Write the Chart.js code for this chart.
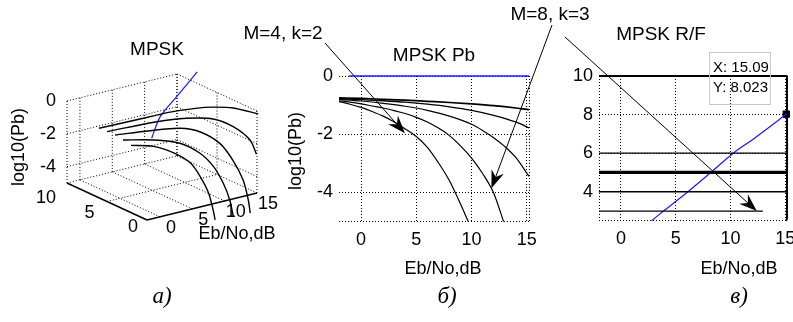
<!DOCTYPE html>
<html lang="ru"><head><meta charset="utf-8"><title>MPSK</title>
<script src="https://cdn.jsdelivr.net/npm/chart.js@4.4.1/dist/chart.umd.min.js"></script>
<style>
html,body{margin:0;padding:0;background:#fff;overflow:hidden}
#wrap{position:relative;width:793px;height:322px;background:#fff}
#wrap canvas{position:absolute;left:0;top:0}
</style></head><body><div id="wrap">
<canvas id="cA" width="793" height="322"></canvas>
<canvas id="cB" width="793" height="322"></canvas>
<canvas id="cC" width="793" height="322"></canvas>
</div>
<script>
// ================= DATA =================
// Panel б : MPSK Pb, log10(Pb) vs Eb/No (dB)
const pbXTicks = [0, 5, 10, 15, 15.2];
const pbYTicks = [-5, -4, -2, 0];
const ebBlue = [-1.1, 15.2];
const pbBlue = [0, 0];
const ebM4  = [-2, -1, 0, 1, 2, 3, 4, 5, 6, 7, 8, 9, 9.7];
const pbM4  = [-0.88, -0.97, -1.08, -1.22, -1.38, -1.58, -1.82, -2.08, -2.45, -2.98, -3.6, -4.4, -5.0];
const ebM8  = [-2, -1, 0, 1, 2, 3, 4, 5, 6, 7, 8, 9, 10, 11, 12, 12.9];
const pbM8  = [-0.85, -0.9, -0.96, -1.03, -1.1, -1.19, -1.29, -1.42, -1.58, -1.79, -2.05, -2.4, -2.82, -3.35, -4.02, -5.0];
const ebM16 = [-2, 0, 2, 4, 6, 8, 10, 11, 12, 13, 14, 15.2];
const pbM16 = [-0.8, -0.86, -0.94, -1.04, -1.18, -1.38, -1.66, -1.87, -2.12, -2.42, -2.8, -3.45];
const ebM32 = [-2, 0, 2, 4, 6, 8, 10, 12, 14, 15.2];
const pbM32 = [-0.78, -0.81, -0.85, -0.9, -0.97, -1.06, -1.18, -1.35, -1.58, -1.78];
const ebM64 = [-2, 0, 2, 4, 6, 8, 10, 12, 14, 15.2];
const pbM64 = [-0.75, -0.77, -0.8, -0.83, -0.87, -0.91, -0.96, -1.02, -1.1, -1.16];

// Panel в : MPSK R/F
const rfXTicks = [-2, 0, 5, 10, 15];
const rfYTicks = [2.5, 4, 6, 8, 10];
const rfLevels   = [10, 6, 5, 4, 3];
const rfLevelEnd = [15.2, 15.2, 15.2, 15.2, 12.95];
const rfBlueX = [2.8, 4, 6, 8.2, 10.25, 12, 14.4, 15.09];
const rfBlueY = [2.5, 3.05, 3.95, 5.0, 6.0, 6.7, 7.72, 8.023];
const rfEdgeX = [15.15, 15.15, 15.05];
const rfEdgeY = [10, 2.6, 2.5];
const tipX = 15.09, tipY = 8.023;

// Panel а : 3-D view, (Eb/No, k, log10(Pb))
const x3Ticks = [0, 5, 10, 15];
const k3Ticks = [0, 5, 10];
const z3Ticks = [-4, -2, 0];
const k3Curves = [2, 3, 4, 5, 6];
const eb3 = [
  [-2, 1.5, 4.6, 7.2, 8.7, 10.0, 10.8, 11.0],
  [-2, 2.7, 6.8, 9.9, 12.0, 13.5, 14.5, 15.05],
  [-2, 3.4, 8.0, 11.1, 14.2, 16.2, 17.8, 18.6, 18.9],
  [-2, 5.7, 10.3, 14.4, 17.5, 20.1, 21.1],
  [-2, 2.8, 6.9, 9.0, 12.9, 15.7, 18.7, 22.6]
];
const pb3 = [
  [-0.9, -1.3, -2.0, -2.87, -3.84, -4.98, -6.27, -6.71],
  [-0.8, -1.25, -1.85, -2.76, -3.78, -4.94, -6.06, -7.13],
  [-0.72, -0.98, -1.28, -1.79, -2.8, -4.01, -5.38, -6.68, -7.51],
  [-0.74, -0.88, -1.12, -1.56, -2.33, -3.39, -4.35],
  [-0.76, -0.80, -0.82, -0.84, -0.99, -1.19, -1.53, -2.27]
];
const eb3Blue = [-1.6, 4.0, 10.0, 17.5];
const k3Blue  = [-0.26, 3.2, 6.0, 9.5];
const pb3Blue = [0, 0, 0, 0];

// annotation targets (data coords)
const arrowM4Tip  = [3.97, -1.97];   // panel б
const arrowM8Tip  = [11.8, -3.86];   // panel б
const arrowM8Tip2 = [12.4, 3.0];     // panel в

// ================= HELPERS =================
const FONT = '"Liberation Sans", Arial, Helvetica, sans-serif';
const BLUE = '#1a1aff';
const pts = (xs, ys) => xs.map((x, i) => ({x, y: ys[i]}));
const line = (data, color, width, extra) => Object.assign({
  data, showLine: true, borderColor: color, backgroundColor: color, borderWidth: width,
  pointRadius: 0, clip: false, cubicInterpolationMode: 'monotone'
}, extra || {});
function txt(ctx, s, x, y, size, align, rot, font) {
  ctx.save();
  ctx.font = font || (size + 'px ' + FONT);
  ctx.fillStyle = '#000';
  ctx.textAlign = align || 'center';
  ctx.textBaseline = 'middle';
  ctx.translate(x, y);
  if (rot) ctx.rotate(rot);
  ctx.fillText(s, 0, 0);
  ctx.restore();
}
function arrow(ctx, x1, y1, x2, y2) {
  const a = Math.atan2(y2 - y1, x2 - x1), c = Math.cos(a), s = Math.sin(a);
  const L = 18, W = 6.5, N = 12;
  ctx.save();
  ctx.strokeStyle = '#000'; ctx.fillStyle = '#000'; ctx.lineWidth = 1;
  ctx.beginPath(); ctx.moveTo(x1, y1); ctx.lineTo(x2 - c * N, y2 - s * N); ctx.stroke();
  const bx = x2 - c * L, by = y2 - s * L;
  ctx.beginPath();
  ctx.moveTo(x2, y2);
  ctx.lineTo(bx - s * W, by + c * W);
  ctx.lineTo(x2 - c * N, y2 - s * N);
  ctx.lineTo(bx + s * W, by - c * W);
  ctx.closePath(); ctx.fill();
  ctx.restore();
}
const fixW = w => s => { s.width = w; s.paddingTop = 0; s.paddingBottom = 0; };
const fixH = h => s => { s.height = h; s.paddingLeft = 0; s.paddingRight = 0; };
const setTicks = arr => s => { s.ticks = arr.map(v => ({value: v})); };
const gridOpts = {color: '#000', lineWidth: 1, drawTicks: false};
const borderOpts = {display: false, dash: [1, 2]};
const baseOpts = {
  responsive: false, animation: false, events: [],
  plugins: {legend: {display: false}, tooltip: {enabled: false}, title: {display: false}}
};

// ================= PANEL а (3-D) =================
const X3MIN = -2, X3MAX = 15, K3MIN = 0, K3MAX = 10, Z3MIN = -5, Z3MAX = 0;
function P3(x, k, z) {
  return {
    x: 147 + 6.47 * (x - X3MIN) - 8 * (k - K3MIN),
    y: 220 - 1.59 * (x - X3MIN) - 3.7 * (k - K3MIN) - 16.4 * (z - Z3MIN)
  };
}
const box3d = {
  id: 'box3d',
  beforeDatasetsDraw(chart) {
    const ctx = chart.ctx, sx = chart.scales.x, sy = chart.scales.y;
    const pix = p => [sx.getPixelForValue(p.x), sy.getPixelForValue(p.y)];
    function seg(a, b, dotted, w) {
      const A = pix(a), B = pix(b);
      ctx.save();
      ctx.strokeStyle = '#000';
      ctx.lineWidth = w || 1;
      ctx.setLineDash(dotted ? [1, 2] : []);
      ctx.beginPath(); ctx.moveTo(A[0], A[1]); ctx.lineTo(B[0], B[1]); ctx.stroke();
      ctx.restore();
    }
    // back wall (k = max)
    for (const z of z3Ticks) seg(P3(X3MIN, K3MAX, z), P3(X3MAX, K3MAX, z), true);
    for (const x of [X3MIN].concat(x3Ticks)) seg(P3(x, K3MAX, Z3MIN), P3(x, K3MAX, Z3MAX), true);
    // side wall (x = max)
    for (const z of z3Ticks) seg(P3(X3MAX, K3MIN, z), P3(X3MAX, K3MAX, z), true);
    for (const k of k3Ticks) seg(P3(X3MAX, k, Z3MIN), P3(X3MAX, k, Z3MAX), true);
    // floor
    for (const x of x3Ticks) seg(P3(x, K3MIN, Z3MIN), P3(x, K3MAX, Z3MIN), true);
    for (const k of k3Ticks.filter(k => k > K3MIN)) seg(P3(X3MIN, k, Z3MIN), P3(X3MAX, k, Z3MIN), true);
    // solid axes
    seg(P3(X3MIN, K3MIN, Z3MIN), P3(X3MAX, K3MIN, Z3MIN), false, 1.4);
    seg(P3(X3MIN, K3MIN, Z3MIN), P3(X3MIN, K3MAX, Z3MIN), false, 1.4);
    // tick labels
    for (const z of z3Ticks) { const p = pix(P3(X3MIN, K3MAX, z)); txt(ctx, String(z), p[0] - 11, p[1], 18, 'right'); }
    for (const k of k3Ticks) {
      const p = pix(P3(X3MIN, k, Z3MIN));
      txt(ctx, String(k), p[0] - 14 - 0.7 * k, p[1] + 7.5 + 0.75 * k, 18);
    }
    for (const x of x3Ticks) { const p = pix(P3(x, K3MIN, Z3MIN)); txt(ctx, String(x), p[0] + 11, p[1] + 11, 18); }
    txt(ctx, 'MPSK', 157, 50, 19);
    txt(ctx, 'log10(Pb)', 19, 147, 18, 'center', -Math.PI / 2);
    txt(ctx, 'Eb/No,dB', 237, 234, 18);
  }
};
const ds3 = k3Curves.map((k, i) => line(eb3[i].map((x, j) => P3(x, k, pb3[i][j])), '#000', 1.4,
  {cubicInterpolationMode: 'default', tension: 0.3}));
ds3.push(line(eb3Blue.map((x, j) => P3(x, k3Blue[j], pb3Blue[j])), BLUE, 1.2,
  {cubicInterpolationMode: 'default', tension: 0.3}));
const chartA = new Chart(document.getElementById('cA'), {
  type: 'scatter',
  data: {datasets: ds3},
  options: Object.assign({}, baseOpts, {
    layout: {padding: 0},
    scales: {
      x: {type: 'linear', min: 0, max: 793, display: false},
      y: {type: 'linear', min: 0, max: 322, reverse: true, display: false}
    }
  }),
  plugins: [box3d]
});

// ================= PANEL б =================
const decoB = {
  id: 'decoB',
  afterDraw(chart) {
    const ctx = chart.ctx;
    txt(ctx, 'MPSK Pb', 434, 56, 19);
    txt(ctx, 'log10(Pb)', 296, 151, 18, 'center', -Math.PI / 2);
    txt(ctx, 'Eb/No,dB', 443, 269, 18);
  }
};
const chartB = new Chart(document.getElementById('cB'), {
  type: 'scatter',
  data: {datasets: [
    line(pts(ebBlue, pbBlue), BLUE, 1.5),
    line(pts(ebM64, pbM64), '#000', 1.7),
    line(pts(ebM32, pbM32), '#000', 1.3),
    line(pts(ebM16, pbM16), '#000', 1.2),
    line(pts(ebM8, pbM8), '#000', 1.2),
    line(pts(ebM4, pbM4), '#000', 1.2)
  ]},
  options: Object.assign({}, baseOpts, {
    layout: {padding: {left: 299, right: 264, top: 76, bottom: 70.5}},
    scales: {
      x: {type: 'linear', min: -2, max: 15.2, afterBuildTicks: setTicks(pbXTicks), afterFit: fixH(30),
        grid: gridOpts, border: borderOpts,
        ticks: {color: '#000', font: {family: FONT, size: 18}, padding: 8, autoSkip: false, maxRotation: 0,
          callback: v => (v === 15.2 ? '' : String(v))}},
      y: {type: 'linear', min: -5, max: 0, afterBuildTicks: setTicks(pbYTicks), afterFit: fixW(40),
        grid: gridOpts, border: borderOpts,
        ticks: {color: '#000', font: {family: FONT, size: 18}, padding: 6, autoSkip: false,
          callback: v => (v === -5 ? '' : String(v))}}
    }
  }),
  plugins: [decoB]
});

// ================= PANEL в + annotations =================
const decoC = {
  id: 'decoC',
  afterDraw(chart) {
    const ctx = chart.ctx;
    txt(ctx, 'MPSK R/F', 661, 35, 19);
    txt(ctx, 'Eb/No,dB', 739, 269, 18);
    // data tip box
    ctx.save();
    ctx.strokeStyle = '#c8c8c8'; ctx.lineWidth = 1;
    ctx.strokeRect(709.5, 52.5, 61, 52);
    ctx.restore();
    txt(ctx, 'X: ' + tipX.toFixed(2), 713, 68, 15, 'left');
    txt(ctx, 'Y: ' + tipY.toFixed(3), 713, 88, 15, 'left');
    // annotations
    const bx = chartB.scales.x, by = chartB.scales.y, cx = chart.scales.x, cy = chart.scales.y;
    txt(ctx, 'M=4, k=2', 283, 34, 19);
    txt(ctx, 'M=8, k=3', 550, 15, 19);
    arrow(ctx, 325, 43, bx.getPixelForValue(arrowM4Tip[0]), by.getPixelForValue(arrowM4Tip[1]));
    arrow(ctx, 552, 25, bx.getPixelForValue(arrowM8Tip[0]), by.getPixelForValue(arrowM8Tip[1]));
    arrow(ctx, 565, 37, cx.getPixelForValue(arrowM8Tip2[0]), cy.getPixelForValue(arrowM8Tip2[1]));
    // panel letters
    const serif = 'italic 23px "Liberation Serif", "Times New Roman", serif';
    txt(ctx, 'а)', 162, 297, 23, 'center', 0, serif);
    txt(ctx, 'б)', 447, 297, 23, 'center', 0, serif);
    txt(ctx, 'в)', 739, 297, 23, 'center', 0, serif);
  }
};
const levelWidths = [2, 1.3, 3.2, 1.3, 1.3];
const dsC = rfLevels.map((y, i) => line([{x: -2, y}, {x: rfLevelEnd[i], y}], '#000', levelWidths[i], {cubicInterpolationMode: 'default'}));
dsC.push(line(pts(rfBlueX, rfBlueY), BLUE, 1.2));
dsC.push(line(pts(rfEdgeX, rfEdgeY), '#000', 2, {cubicInterpolationMode: 'default', tension: 0.3}));
dsC.push({data: [{x: tipX, y: tipY}], showLine: false, pointStyle: 'rect', pointRadius: 4.5,
  backgroundColor: '#000', borderColor: '#000', borderWidth: 1, clip: false});
const chartC = new Chart(document.getElementById('cC'), {
  type: 'scatter',
  data: {datasets: dsC},
  options: Object.assign({}, baseOpts, {
    layout: {padding: {left: 559, right: 4, top: 76, bottom: 71.3}},
    scales: {
      x: {type: 'linear', min: -2, max: 15.2, afterBuildTicks: setTicks(rfXTicks), afterFit: fixH(30),
        grid: gridOpts, border: borderOpts,
        ticks: {color: '#000', font: {family: FONT, size: 18}, padding: 8, autoSkip: false, maxRotation: 0,
          callback: v => (v === -2 ? '' : String(v))}},
      y: {type: 'linear', min: 2.5, max: 10, afterBuildTicks: setTicks(rfYTicks), afterFit: fixW(40),
        grid: gridOpts, border: borderOpts,
        ticks: {color: '#000', font: {family: FONT, size: 18}, padding: 6, autoSkip: false,
          callback: v => (v === 2.5 ? '' : String(v))}}
    }
  }),
  plugins: [decoC]
});
</script></body></html>
